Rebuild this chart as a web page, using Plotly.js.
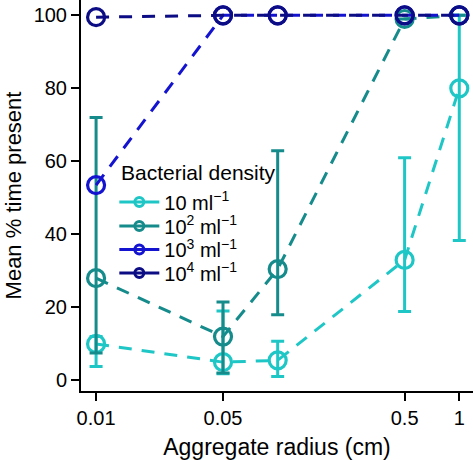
<!DOCTYPE html>
<html>
<head>
<meta charset="utf-8">
<script src="https://cdn.plot.ly/plotly-3.0.1.min.js"></script>
<style>html,body{margin:0;padding:0;background:#fff;}#chart{width:473px;height:460px;}</style>
</head>
<body>
<div id="chart"></div>
<script>
// Data
const radius = [0.01, 0.05, 0.1, 0.5, 1];
const legendTitle = 'Bacterial density';
const seriesNames = ['10 ml<sup>−1</sup>', '10<sup>2</sup> ml<sup>−1</sup>', '10<sup>3</sup> ml<sup>−1</sup>', '10<sup>4</sup> ml<sup>−1</sup>'];
const mean10 = [10, 5, 5.5, 33, 80];
const upper10 = [12, 19, 10.7, 61, 100];
const lower10 = [3.8, 1.8, 1.1, 18.9, 38.3];
const mean100 = [28, 12, 30.5, 99, 100];
const upper100 = [72, 21.5, 62.9, 99, 100];
const lower100 = [7.5, 2, 18, 99, 100];
const mean1000 = [53.5, 100, 100, 100, 100];
const mean10000 = [99.5, 100, 100, 100, 100];
const xTickVals = [0.01, 0.05, 0.5, 1];
const xTickText = ['0.01', '0.05', '0.5', '1'];
const yTickVals = [0, 20, 40, 60, 80, 100];

const colors = ['#1fc6c6', '#168b8b', '#1414d0', '#0c0c85'];
const FONT = 'Liberation Sans, Arial, Helvetica, sans-serif';
const PLOT_H = 391, PLOT_W = 392;

function mainTrace(y, upper, lower, color) {
  const t = {
    x: radius, y: y, type: 'scatter', mode: 'lines+markers', showlegend: false,
    line: {color: color, width: 3, dash: '13px,10px'},
    marker: {symbol: 'circle-open', size: 17, color: color, line: {color: color, width: 3.2}},
    cliponaxis: false
  };
  if (upper) {
    t.error_y = {
      type: 'data', symmetric: false,
      array: upper.map((u, i) => u - y[i]),
      arrayminus: lower.map((l, i) => y[i] - l),
      color: color, thickness: 3, width: 6.5
    };
  }
  return t;
}
function legendTrace(name, color, legendId) {
  return {
    x: [null], y: [null], type: 'scatter', mode: 'lines+markers', name: name,
    legend: legendId,
    line: {color: color, width: 3},
    marker: {symbol: 'circle-open', size: 9, color: color, line: {color: color, width: 3}}
  };
}

const data = [
  mainTrace(mean10, upper10, lower10, colors[0]),
  mainTrace(mean100, upper100, lower100, colors[1]),
  mainTrace(mean1000, null, null, colors[2]),
  mainTrace(mean10000, null, null, colors[3]),
  legendTrace(seriesNames[0], colors[0], 'legend'),
  legendTrace(seriesNames[1], colors[1], 'legend2'),
  legendTrace(seriesNames[2], colors[2], 'legend3'),
  legendTrace(seriesNames[3], colors[3], 'legend4')
];

function legendBox(py) {
  return {
    x: 0.085, y: 1 - py / PLOT_H, xanchor: 'left', yanchor: 'middle',
    bgcolor: 'rgba(0,0,0,0)', borderwidth: 0,
    font: {size: 20, family: FONT}, itemwidth: 40
  };
}

const layout = {
  width: 473, height: 460,
  margin: {l: 81, r: 0, t: 0, b: 69},
  paper_bgcolor: '#fff', plot_bgcolor: '#fff',
  font: {family: FONT, color: '#000', size: 20},
  xaxis: {
    type: 'log', range: [Math.log10(0.00826), Math.log10(1.19)],
    tickvals: xTickVals, ticktext: xTickText,
    showline: true, linecolor: '#000', linewidth: 2, mirror: false,
    ticks: 'outside', ticklen: 8, tickwidth: 2, tickcolor: '#000',
    showgrid: false, zeroline: false,
    tickfont: {size: 20, family: FONT},
    title: {text: 'Aggregate radius (cm)', font: {size: 23, family: FONT}, standoff: 13}
  },
  yaxis: {
    range: [-2.9, 104.2],
    tickvals: yTickVals,
    showline: true, linecolor: '#000', linewidth: 2,
    ticks: 'outside', ticklen: 8, tickwidth: 2, tickcolor: '#000',
    showgrid: false, zeroline: false,
    tickfont: {size: 20, family: FONT},
    title: {text: 'Mean % time present', font: {size: 22, family: FONT}, standoff: 6}
  },
  annotations: [{
    text: legendTitle, xref: 'paper', yref: 'paper',
    x: (119 - 81) / PLOT_W, y: 1 - 172.7 / PLOT_H, xanchor: 'left', yanchor: 'middle',
    showarrow: false, font: {size: 21, family: FONT, color: '#000'}
  }],
  legend: legendBox(202),
  legend2: legendBox(226),
  legend3: legendBox(249.5),
  legend4: legendBox(273)
};

Plotly.newPlot('chart', data, layout, {displayModeBar: false, staticPlot: true});
</script>
</body>
</html>
